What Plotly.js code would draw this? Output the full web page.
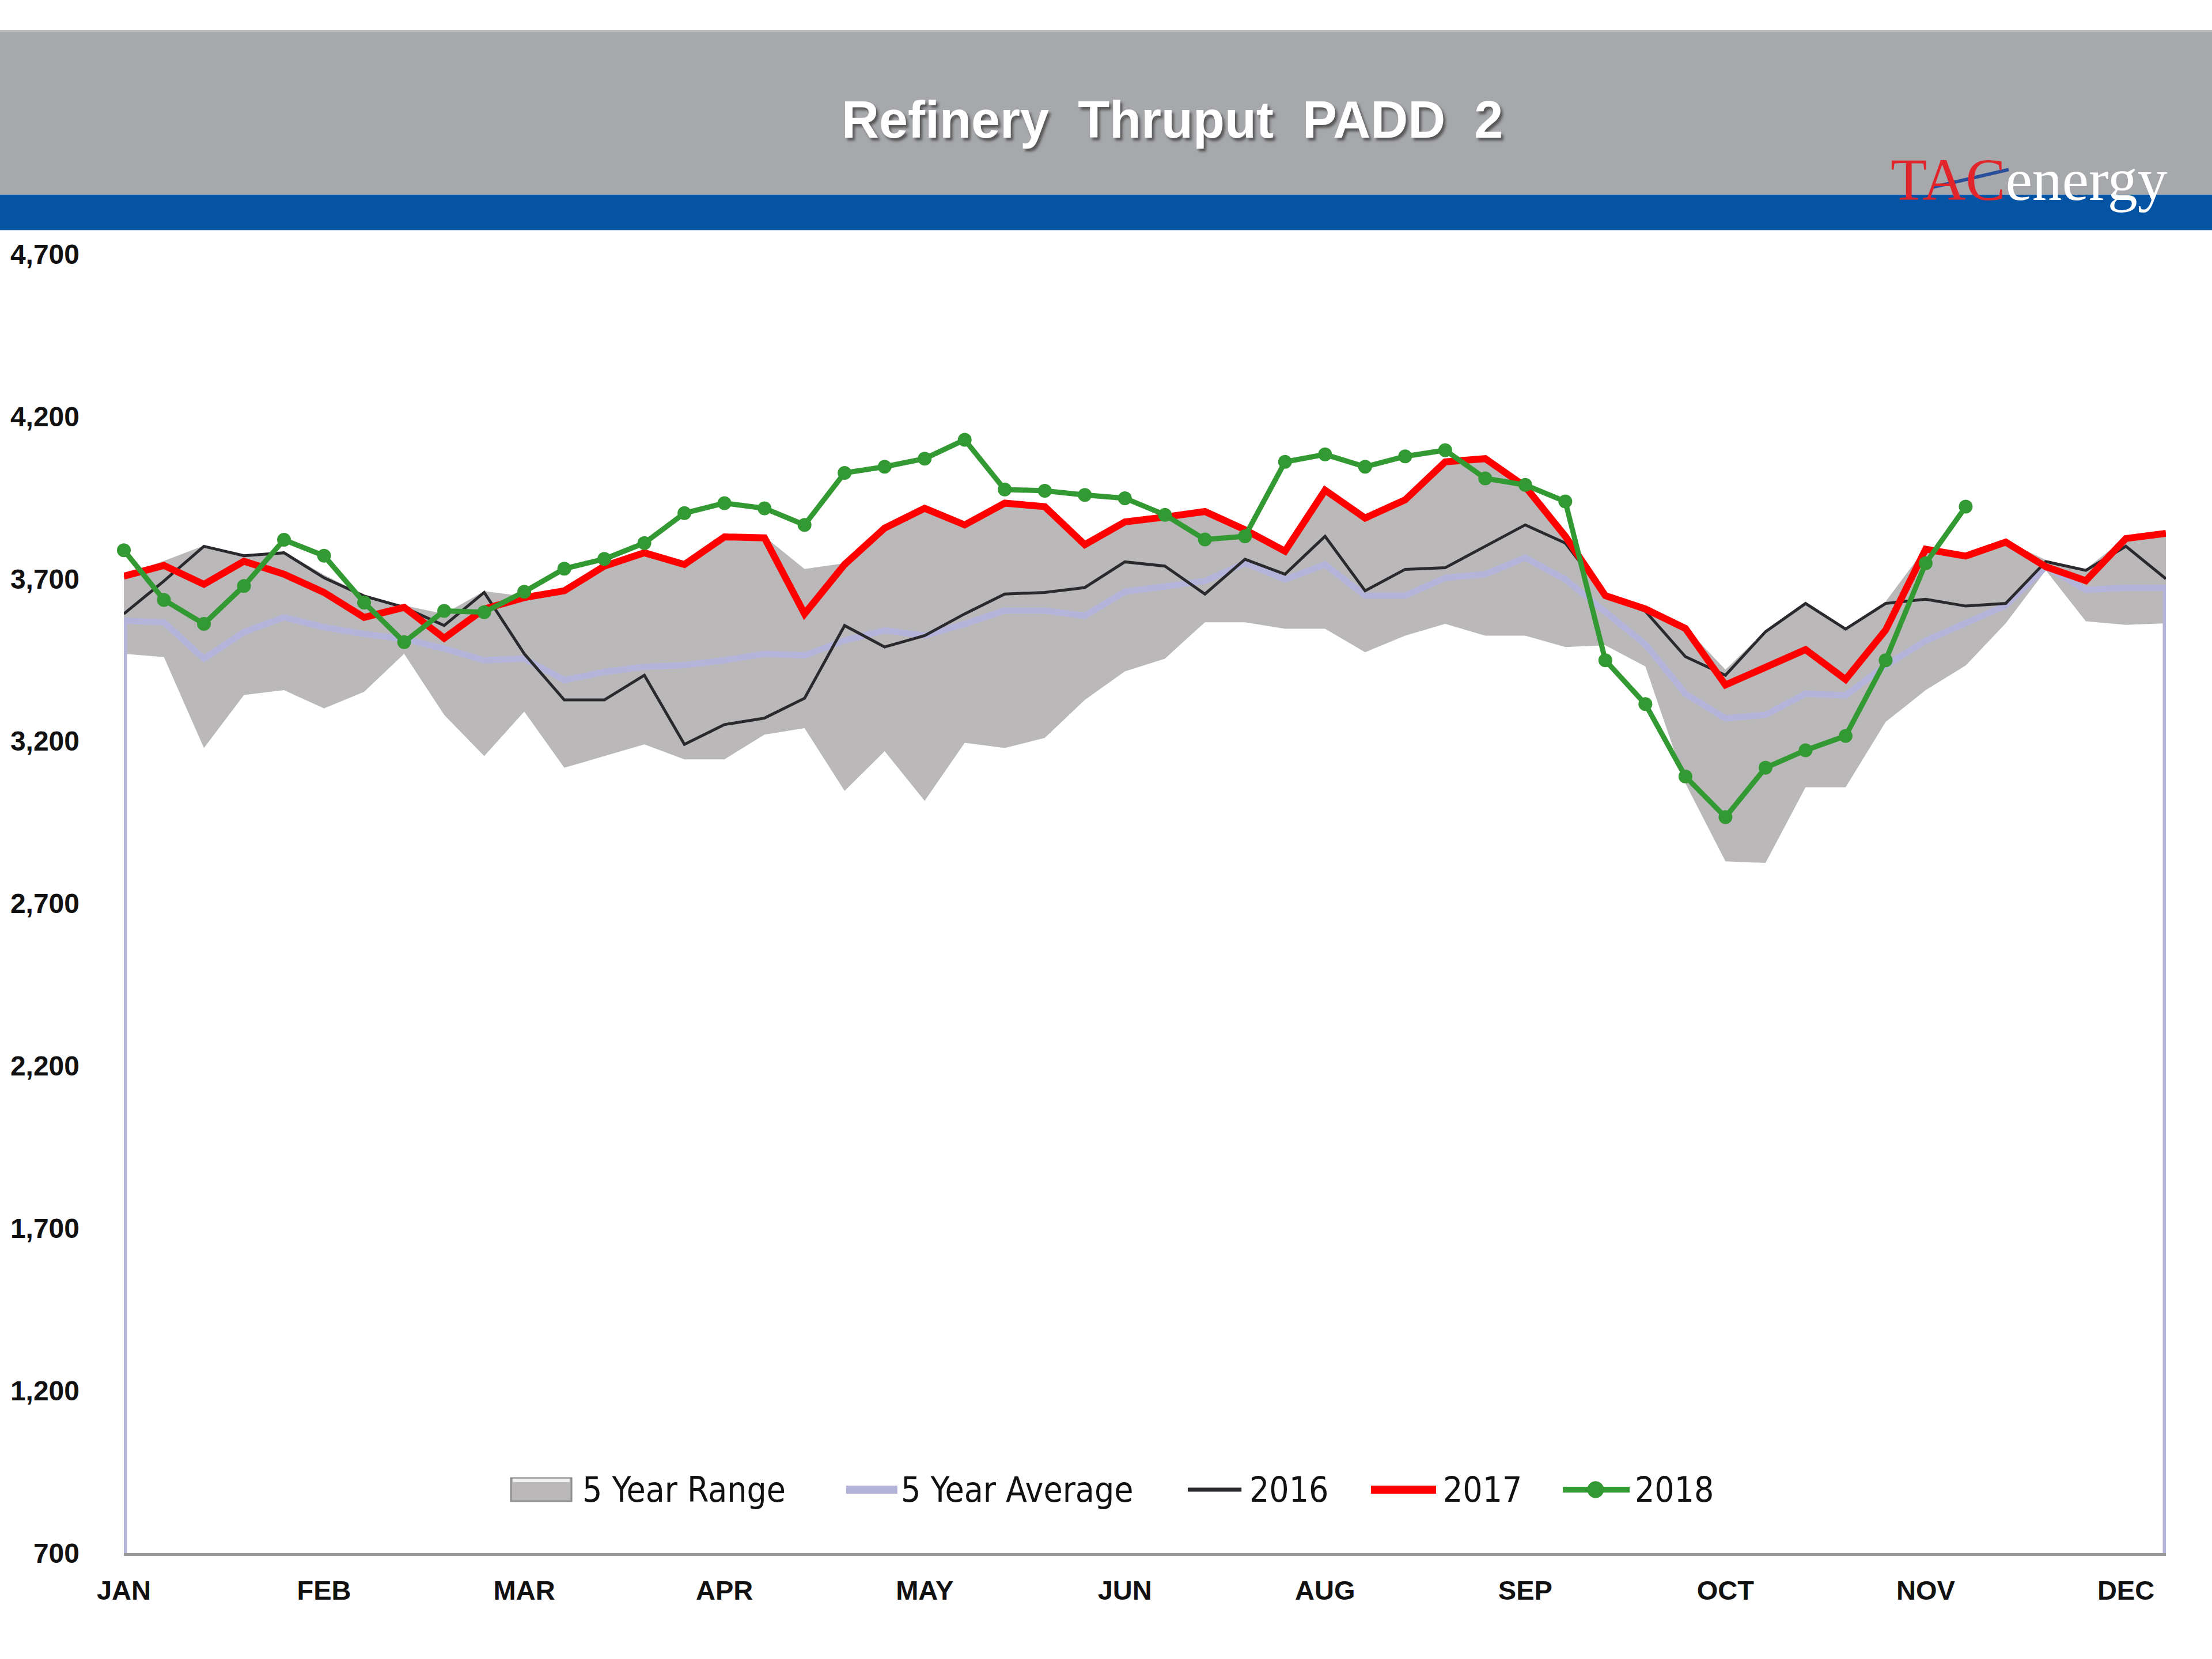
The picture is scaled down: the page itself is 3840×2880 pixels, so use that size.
<!DOCTYPE html>
<html>
<head>
<meta charset="utf-8">
<script src="https://cdn.plot.ly/plotly-3.0.1.min.js"></script>
<style>
  html, body { margin: 0; padding: 0; background: #ffffff; }
  #chart { width: 3840px; height: 2880px; }
</style>
</head>
<body>
<div id="chart"></div>
<script>
// ---- Data (weekly, week index 0..51) ----
const weeks = Array.from({length: 52}, (_, i) => i);

const tickWeeks  = [0, 5, 10, 15, 20, 25, 30, 35, 40, 45, 50];
const tickLabels = ['JAN', 'FEB', 'MAR', 'APR', 'MAY', 'JUN', 'AUG', 'SEP', 'OCT', 'NOV', 'DEC'];

const rangeLow = [3469, 3459, 3179, 3342, 3357, 3301, 3352, 3469, 3281, 3154, 3291, 3118, 3154,
  3190, 3144, 3144, 3220, 3240, 3047, 3169, 3016, 3195, 3179, 3210, 3327, 3415, 3454,
  3566, 3566, 3546, 3546, 3474, 3525, 3561, 3525, 3525, 3490, 3495, 3430, 3070, 2830,
  2825, 3058, 3058, 3259, 3357, 3433, 3563, 3726, 3569, 3558, 3563];

const rangeHigh = [3712, 3755, 3802, 3775, 3784, 3712, 3650, 3618, 3592, 3662, 3646, 3667, 3742,
  3784, 3750, 3832, 3830, 3730, 3748, 3860, 3920, 3870, 3936, 3925, 3810, 3880, 3893,
  3910, 3858, 3790, 3976, 3890, 3946, 4063, 4073, 3988, 3835, 3655, 3612, 3550, 3420,
  3540, 3628, 3550, 3630, 3795, 3774, 3816, 3758, 3730, 3827, 3843];

const avg5 = [3571, 3566, 3454, 3536, 3581, 3551, 3530, 3515, 3485, 3449, 3454, 3388, 3413,
  3429, 3434, 3449, 3469, 3464, 3510, 3541, 3525, 3561, 3602, 3602, 3586, 3660, 3678,
  3693, 3749, 3698, 3744, 3648, 3648, 3703, 3714, 3765, 3698, 3597, 3498, 3346, 3270,
  3281, 3346, 3341, 3433, 3509, 3563, 3618, 3737, 3666, 3672, 3672];

const y2016 = [3592, 3693, 3800, 3771, 3780, 3703, 3647, 3612, 3556, 3658, 3469, 3327, 3327,
  3403, 3190, 3251, 3271, 3332, 3556, 3490, 3525, 3592, 3653, 3658, 3673, 3752, 3739,
  3653, 3760, 3714, 3831, 3663, 3729, 3734, 3800, 3866, 3810, 3650, 3600, 3460, 3403,
  3537, 3624, 3545, 3624, 3637, 3616, 3624, 3753, 3726, 3800, 3700];

const y2017 = [3708, 3741, 3683, 3754, 3714, 3658, 3581, 3612, 3517, 3607, 3642, 3663, 3739,
  3780, 3744, 3829, 3826, 3592, 3744, 3856, 3917, 3866, 3933, 3922, 3805, 3875, 3890,
  3907, 3851, 3785, 3973, 3887, 3943, 4060, 4070, 3984, 3831, 3648, 3607, 3547, 3373,
  3428, 3482, 3390, 3542, 3791, 3770, 3813, 3737, 3694, 3824, 3840];

const y2018 = [3788, 3635, 3561, 3678, 3820, 3771, 3627, 3505, 3601, 3597, 3660, 3731, 3761,
  3810, 3902, 3933, 3917, 3866, 4026, 4045, 4070, 4128, 3975, 3971, 3958, 3948, 3897,
  3821, 3831, 4060, 4083, 4045, 4077, 4096, 4009, 3989, 3938, 3449, 3314, 3091, 2966,
  3118, 3172, 3216, 3449, 3748, 3922];

const seriesNames = ['5 Year Range', '5 Year Average', '2016', '2017', '2018'];

const Y_MIN = 700, Y_MAX = 4700;

// colours
const C_RANGE = '#BAB8B8', C_AVG = '#B4B4DA', C_2016 = '#2A2A2E', C_2017 = '#FF0000', C_2018 = '#339933';

// 5-year average drawn as an outlined area (drops to the axis at both ends)
const avgX = [weeks[0]].concat(weeks, [weeks[weeks.length - 1]]);
const avgY = [Y_MIN].concat(avg5, [Y_MIN]);

const traces = [
  { x: weeks, y: rangeLow, type: 'scatter', mode: 'lines', line: {width: 0, color: 'rgba(0,0,0,0)'},
    showlegend: false, hoverinfo: 'skip' },
  { x: weeks, y: rangeHigh, type: 'scatter', mode: 'lines', name: seriesNames[0],
    fill: 'tonexty', fillcolor: C_RANGE, line: {width: 0, color: C_RANGE}, showlegend: false },
  { x: avgX, y: avgY, type: 'scatter', mode: 'lines', name: seriesNames[1],
    line: {color: C_AVG, width: 11}, cliponaxis: false, showlegend: false },
  { x: weeks, y: y2016, type: 'scatter', mode: 'lines', name: seriesNames[2],
    line: {color: C_2016, width: 5}, cliponaxis: false, showlegend: false },
  { x: weeks, y: y2017, type: 'scatter', mode: 'lines', name: seriesNames[3],
    line: {color: C_2017, width: 12}, cliponaxis: false, showlegend: false },
  { x: weeks.slice(0, y2018.length), y: y2018, type: 'scatter', mode: 'lines+markers', name: seriesNames[4],
    line: {color: C_2018, width: 9}, marker: {color: C_2018, size: 24}, cliponaxis: false, showlegend: false }
];

// ---- Custom legend (drawn in paper coordinates) ----
const legY = 0.0488;
const legFont = {family: '"Liberation Sans Narrow", "DejaVu Sans Condensed", "Liberation Sans", sans-serif', size: 60, color: '#111111'};
const legText = [0.2240, 0.3800, 0.5506, 0.6454, 0.7393];
const legLines = [null, [0.3537, 0.3788, C_AVG, 14], [0.5210, 0.5473, C_2016, 7], [0.6107, 0.6426, C_2017, 14], [0.7047, 0.7374, C_2018, 10]];

const shapes = [
  // header
  { type: 'rect', xref: 'paper', yref: 'paper', x0: -0.07, x1: 1.03, y0: 1.0457, y1: 1.1716,
    fillcolor: '#A7A8AB', line: {width: 0}, layer: 'below' },
  { type: 'line', xref: 'paper', yref: 'paper', x0: -0.07, x1: 1.03, y0: 1.1716, y1: 1.1716,
    line: {color: '#BDBDBF', width: 4} },
  { type: 'rect', xref: 'paper', yref: 'paper', x0: -0.07, x1: 1.03, y0: 1.0184, y1: 1.0457,
    fillcolor: '#0553A3', line: {width: 0}, layer: 'below' },
  // logo slash
  { type: 'line', xref: 'paper', yref: 'paper', x0: 0.8860, x1: 0.9230, y0: 1.0515, y1: 1.0650,
    line: {color: '#2A4F9A', width: 6} },
  // legend: range box
  { type: 'rect', xref: 'paper', yref: 'paper', x0: 0.1896, x1: 0.2192, y0: 0.0399, y1: 0.0576,
    fillcolor: C_RANGE, line: {color: '#8E8E8E', width: 3} },
  { type: 'line', xref: 'paper', yref: 'paper', x0: 0.1905, x1: 0.2183, y0: 0.0560, y1: 0.0560,
    line: {color: '#F2F2F2', width: 6} }
];
legLines.forEach(l => {
  if (!l) return;
  shapes.push({ type: 'line', xref: 'paper', yref: 'paper', x0: l[0], x1: l[1], y0: legY, y1: legY,
    line: {color: l[2], width: l[3]} });
});
// 2018 legend marker
shapes.push({ type: 'circle', xref: 'paper', yref: 'paper', x0: 0.7207 - 0.0040, x1: 0.7207 + 0.0040,
  y0: legY - 0.0063, y1: legY + 0.0063, fillcolor: C_2018, line: {color: C_2018, width: 1} });

const annotations = [
  { text: 'Refinery  Thruput  PADD  2', xref: 'paper', yref: 'paper', x: 0.5134, y: 1.1033,
    xanchor: 'center', yanchor: 'middle', showarrow: false,
    font: {family: '"Liberation Sans", Arial, sans-serif', size: 90, color: '#ffffff', weight: 'bold',
           shadow: '4px 5px 4px rgba(60,60,60,0.75)'} },
  { text: '<span style="color:#E2252B">TAC</span><span style="color:#ffffff">energy</span>',
    xref: 'paper', yref: 'paper', x: 0.933, y: 1.0575, xanchor: 'center', yanchor: 'middle',
    showarrow: false,
    font: {family: '"Liberation Serif", "DejaVu Serif", serif', size: 104, color: '#ffffff'} }
];
seriesNames.forEach((n, i) => {
  annotations.push({ text: n, xref: 'paper', yref: 'paper', x: legText[i], y: legY,
    xanchor: 'left', yanchor: 'middle', showarrow: false, font: legFont });
});

const layout = {
  width: 3840, height: 2880,
  paper_bgcolor: '#ffffff', plot_bgcolor: '#ffffff',
  margin: {l: 215, r: 80, t: 441, b: 184, pad: 0},
  showlegend: false,
  xaxis: {
    range: [0, 51], showgrid: false, zeroline: false,
    tickmode: 'array', tickvals: tickWeeks, ticktext: tickLabels,
    ticks: '', ticklabelstandoff: 20,
    tickfont: {family: '"Liberation Sans", Arial, sans-serif', size: 47, color: '#111111', weight: 'bold'},
    showline: true, linecolor: '#9A9A9A', linewidth: 5, mirror: false
  },
  yaxis: {
    range: [Y_MIN, Y_MAX], showgrid: false, zeroline: false,
    tickmode: 'linear', tick0: 700, dtick: 500, tickformat: ',d',
    ticks: '', ticklabelstandoff: 76, showline: false,
    tickfont: {family: '"Liberation Sans", Arial, sans-serif', size: 48, color: '#111111', weight: 'bold'}
  },
  shapes: shapes,
  annotations: annotations
};

Plotly.newPlot('chart', traces, layout, {displayModeBar: false, staticPlot: true});
</script>
</body>
</html>
